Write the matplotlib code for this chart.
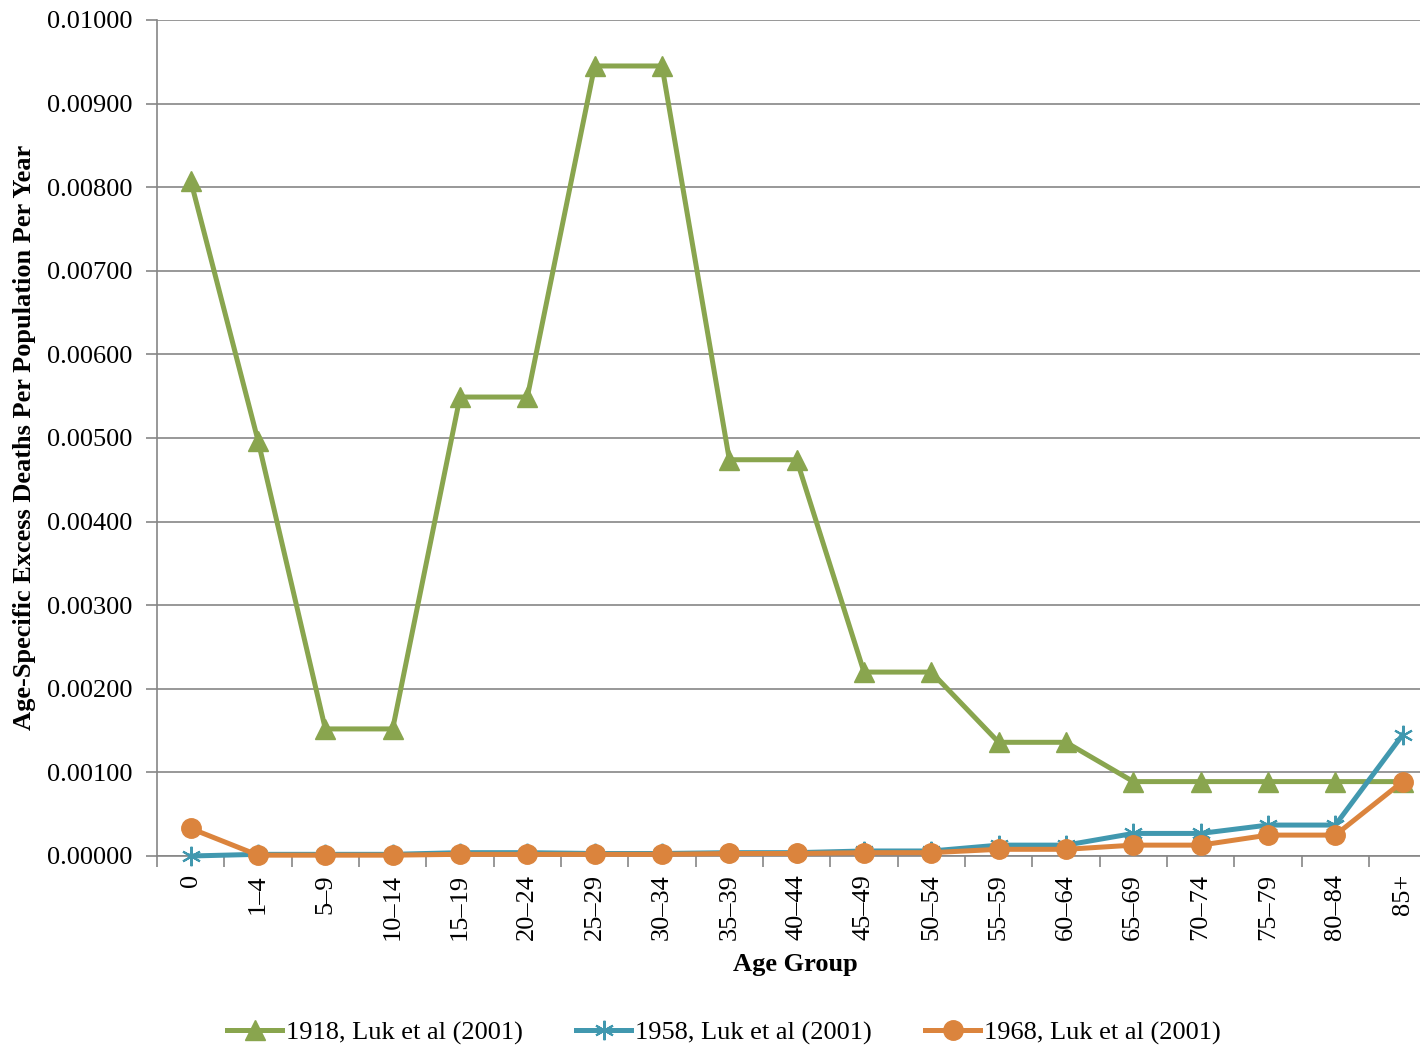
import matplotlib
matplotlib.use("Agg")
import matplotlib.pyplot as plt
from matplotlib.ticker import FixedLocator, FormatStrFormatter

plt.rcParams["font.family"] = ["Liberation Serif", "DejaVu Serif"]

age_groups = ["0", "1–4", "5–9", "10–14", "15–19", "20–24", "25–29", "30–34",
              "35–39", "40–44", "45–49", "50–54", "55–59", "60–64", "65–69",
              "70–74", "75–79", "80–84", "85+"]

deaths_1918 = [0.00808, 0.00497, 0.00152, 0.00152, 0.00549, 0.00549, 0.00945,
               0.00945, 0.00474, 0.00474, 0.00220, 0.00220, 0.00136, 0.00136,
               0.00089, 0.00089, 0.00089, 0.00089, 0.00089]
deaths_1958 = [0.00000, 0.00002, 0.00002, 0.00002, 0.00004, 0.00004, 0.00003,
               0.00003, 0.00004, 0.00004, 0.00006, 0.00006, 0.00013, 0.00013,
               0.00027, 0.00027, 0.00037, 0.00037, 0.00145]
deaths_1968 = [0.00033, 0.00001, 0.00001, 0.00001, 0.00002, 0.00002, 0.00002,
               0.00002, 0.00003, 0.00003, 0.00004, 0.00004, 0.00008, 0.00008,
               0.00013, 0.00013, 0.00025, 0.00025, 0.00089]

labels = ["1918, Luk et al (2001)", "1958, Luk et al (2001)", "1968, Luk et al (2001)"]

GREEN = "#89A54E"
BLUE = "#4198AF"
ORANGE = "#DB843D"
GRID = "#868686"
FS = 19

W, H = 1420, 1050
fig = plt.figure(figsize=(W / 100, H / 100), dpi=100)
ax = fig.add_axes([157 / W, 1 - 856 / H, (1420 - 157) / W, (856 - 20) / H])

x = list(range(len(age_groups)))
ax.plot(x, deaths_1918, color=GREEN, lw=3.6, marker="^", ms=15,
        mec=GREEN, label=labels[0], clip_on=False, zorder=3)
ax.plot(x, deaths_1958, color=BLUE, lw=3.6, marker=(6, 2, 0), ms=14,
        mec=BLUE, mew=1.5, label=labels[1], clip_on=False, zorder=4)
ax.plot(x, deaths_1968, color=ORANGE, lw=3.6, marker="o", ms=14,
        mec=ORANGE, label=labels[2], clip_on=False, zorder=5)

ax.yaxis.set_major_locator(FixedLocator([i * 0.001 for i in range(11)]))
ax.yaxis.set_major_formatter(FormatStrFormatter("%.5f"))
ax.grid(axis="y", color=GRID, lw=1.2)
ax.set_axisbelow(True)

ax.set_xticks(x)
ax.set_xticklabels(age_groups, rotation=90, fontsize=FS)
ax.set_xticks([i - 0.5 for i in range(len(age_groups) + 1)], minor=True)
ax.tick_params(axis="x", which="major", length=0, pad=13)
ax.tick_params(axis="x", which="minor", length=8, color=GRID, width=1.2)
ax.tick_params(axis="y", length=8, color=GRID, width=1.2, pad=10, labelsize=FS)

# limits after the ticks, otherwise set_xticks widens the view
step = (1402 - 190) / 18
ax.set_xlim(-0.5, -0.5 + (1420 - 157) / step)
ax.set_ylim(0, 0.01)

for side in ("top", "right"):
    ax.spines[side].set_visible(False)
for side in ("left", "bottom"):
    ax.spines[side].set_color(GRID)
    ax.spines[side].set_linewidth(1.2)

fig.text(25 / W, 1 - 437 / H, "Age-Specific Excess Deaths Per Population Per Year",
         rotation=90, ha="center", va="center", fontsize=FS, fontweight="bold")
fig.text(795 / W, 1 - 964 / H, "Age Group", ha="center", va="center",
         fontsize=FS, fontweight="bold")

fig.legend(loc="center", bbox_to_anchor=(724 / W, 1 - 1033 / H), ncol=3,
           frameon=False, fontsize=FS, handlelength=2.1, handletextpad=0.15,
           columnspacing=2.0)

fig.savefig("out.png", dpi=100)
